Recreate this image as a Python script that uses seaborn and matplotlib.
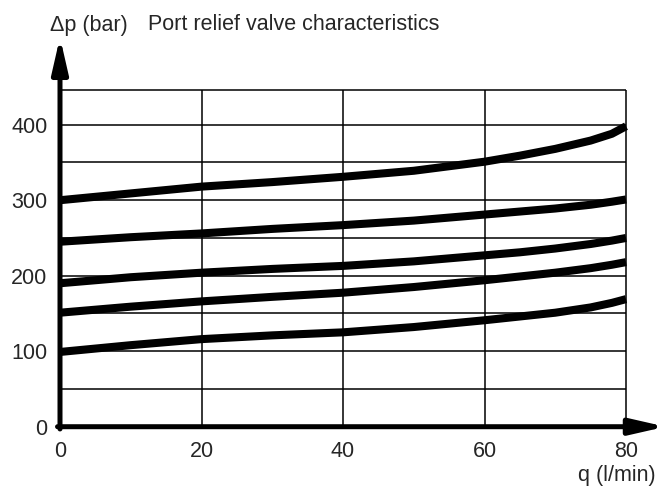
import matplotlib
matplotlib.use("Agg")
import matplotlib.pyplot as plt
import seaborn as sns
import pandas as pd

# flow (l/min) and pressure drop (bar)
q = [0, 10, 20, 30, 40, 50, 60, 65, 70, 75, 78, 80]
dp_1 = [300, 309, 318, 324, 331, 339, 351, 359, 368, 379, 388, 398]
dp_2 = [245, 251, 256, 262, 267, 273, 281, 285, 289, 294, 298, 301]
dp_3 = [190, 198, 204, 209, 213, 219, 227, 231, 236, 242, 246.5, 250]
dp_4 = [151, 159, 166, 172, 177.5, 185, 194, 199, 204, 210, 214.5, 218]
dp_5 = [99, 108, 116, 121, 125, 132, 141, 146, 151, 158, 164, 169]

x_ticks = [0, 20, 40, 60, 80]
y_ticks = [0, 100, 200, 300, 400]
grid_y = [50, 100, 150, 200, 250, 300, 350, 400, 446]
grid_x = [20, 40, 60, 80]

curves = {"c1": dp_1, "c2": dp_2, "c3": dp_3, "c4": dp_4, "c5": dp_5}
df = pd.concat(
    [pd.DataFrame({"q": q, "dp": v, "curve": k}) for k, v in curves.items()],
    ignore_index=True,
)

sns.set_style("white")
plt.rcParams["font.family"] = ["Liberation Sans", "DejaVu Sans"]

fig = plt.figure(figsize=(6.64, 4.86), dpi=100)
ax = fig.add_axes([60 / 664, 0.122, 601.4 / 664, 0.8078])
ax.set_xlim(0, 85)
ax.set_ylim(0, 520)

# grid
ax.hlines(grid_y, 0, 80, color="black", lw=1.1, zorder=1)
ax.vlines(grid_x, 0, 446, color="black", lw=1.1, zorder=1)

# curves
sns.lineplot(data=df, x="q", y="dp", hue="curve", units="curve", estimator=None,
             palette=["black"] * 5, lw=5.8, legend=False, sort=False, ax=ax,
             solid_capstyle="butt", solid_joinstyle="round", zorder=3)

# axes with arrows
arrow = dict(arrowstyle="-|>,head_length=1.05,head_width=0.24", lw=3.6,
             color="black", shrinkA=0, shrinkB=0, mutation_scale=20)
ax.annotate("", xy=(0, 516), xytext=(0, -3), arrowprops=arrow,
            annotation_clip=False, zorder=4)
ax.annotate("", xy=(85.6, 0), xytext=(-0.35, 0), arrowprops=arrow,
            annotation_clip=False, zorder=4)

for s in ax.spines.values():
    s.set_visible(False)
ax.set_xticks(x_ticks)
ax.set_yticks(y_ticks)
ax.tick_params(axis="x", length=0, pad=10.5, labelsize=15.5)
ax.tick_params(axis="y", length=0, pad=9, labelsize=15.5)
ax.set_xlabel("")
ax.set_ylabel("")

fig.text(50 / 664, 1 - 25 / 486, "Δp (bar)", fontsize=15.5, va="center", ha="left")
fig.text(148 / 664, 1 - 25 / 486, "Port relief valve characteristics",
         fontsize=15.5, va="center", ha="left")
fig.text(656 / 664, 1 - 475 / 486, "q (l/min)", fontsize=15.5, va="center", ha="right")

fig.savefig("out.png", dpi=100)
